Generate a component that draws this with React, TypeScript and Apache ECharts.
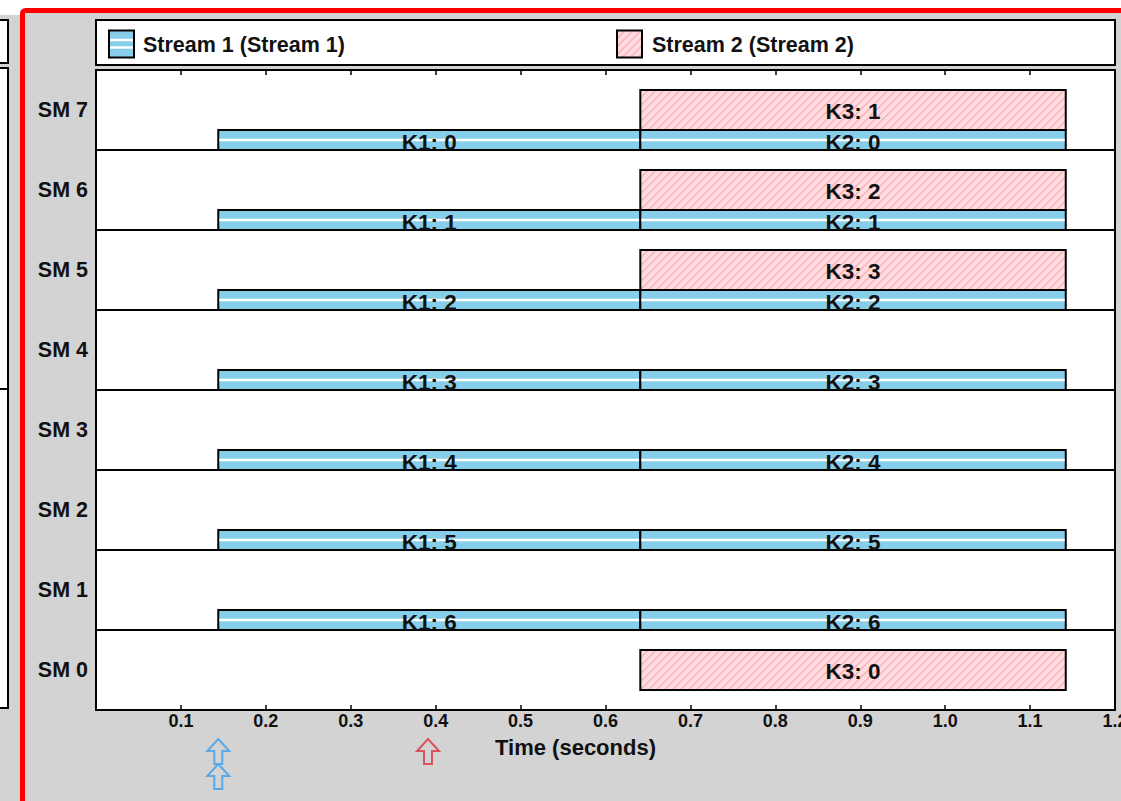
import React, { useEffect, useRef } from "react";
import * as echarts from "echarts";

const FONT = '"Liberation Sans", Arial, Helvetica, sans-serif';

// Rows (SMs) from bottom to top
const smLabels = ["SM 0", "SM 1", "SM 2", "SM 3", "SM 4", "SM 5", "SM 6", "SM 7"];
const streamNames = ["Stream 1", "Stream 2"];
const timeTicks = [0.1, 0.2, 0.3, 0.4, 0.5, 0.6, 0.7, 0.8, 0.9, 1.0, 1.1, 1.2];

// Thread blocks
const blockSM = [7, 6, 5, 4, 3, 2, 1, 7, 6, 5, 4, 3, 2, 1, 0, 7, 6, 5];
const blockStart = [
  0.144, 0.144, 0.144, 0.144, 0.144, 0.144, 0.144,
  0.641, 0.641, 0.641, 0.641, 0.641, 0.641, 0.641,
  0.641, 0.641, 0.641, 0.641,
];
const blockEnd = [
  0.641, 0.641, 0.641, 0.641, 0.641, 0.641, 0.641,
  1.142, 1.142, 1.142, 1.142, 1.142, 1.142, 1.142,
  1.142, 1.142, 1.142, 1.142,
];
const blockStream = [0, 0, 0, 0, 0, 0, 0, 0, 0, 0, 0, 0, 0, 0, 1, 1, 1, 1];
const blockLabel = [
  "K1: 0", "K1: 1", "K1: 2", "K1: 3", "K1: 4", "K1: 5", "K1: 6",
  "K2: 0", "K2: 1", "K2: 2", "K2: 3", "K2: 4", "K2: 5", "K2: 6",
  "K3: 0", "K3: 1", "K3: 2", "K3: 3",
];

// Kernel launch markers (time, stream, stack position)
const launchTime = [0.144, 0.144, 0.391];
const launchStream = [0, 0, 1];
const launchStack = [0, 1, 0];

const BLUE = "#87CEEB";
const PINK = "#FFDCDF";
const HATCH = "#F7AEB6";
const ARROW_COLORS = ["#5AA8E6", "#D9535D"];

function hatchLines(x0: number, y0: number, w: number, h: number, step: number, color: string) {
  const out: any[] = [];
  const x1 = x0 + w;
  for (let k = x0 - h; k < x1; k += step) {
    const xs = Math.max(k, x0);
    const xe = Math.min(k + h, x1);
    if (xs >= xe) continue;
    out.push({
      type: "line",
      shape: { x1: xs, y1: y0 + h - (xs - k), x2: xe, y2: y0 + h - (xe - k) },
      style: { stroke: color, lineWidth: 1.3 },
    });
  }
  return out;
}

export default function App() {
  const ref = useRef<HTMLDivElement>(null);

  useEffect(() => {
    if (!ref.current) return;
    const chart = echarts.init(ref.current, null, { renderer: "svg" });

    const blockData = blockSM.map((sm, i) => [blockStart[i], blockEnd[i], sm, blockStream[i], i]);
    const launchData = launchTime.map((t, i) => [t, 0, launchStream[i], launchStack[i]]);
    const tickData = timeTicks.map((t) => [t, 0]);

    const renderBlock = (params: any, api: any) => {
      const s = api.value(0);
      const e = api.value(1);
      const sm = api.value(2);
      const st = api.value(3);
      const idx = api.value(4);
      const p0 = api.coord([s, sm]);
      const p1 = api.coord([e, sm]);
      const band = api.size([0, 1])[1];
      const rowBottom = p0[1] + band / 2;
      const x0 = p0[0];
      const x1 = p1[0];
      const children: any[] = [];
      let y0: number, h: number;
      if (st === 0) {
        h = band * 0.25;
        y0 = rowBottom - h;
        children.push({
          type: "rect",
          shape: { x: x0, y: y0, width: x1 - x0, height: h },
          style: { fill: BLUE, stroke: "#000", lineWidth: 2 },
        });
        children.push({
          type: "line",
          shape: { x1: x0 + 1, y1: y0 + h / 2, x2: x1 - 1, y2: y0 + h / 2 },
          style: { stroke: "#fff", lineWidth: 2.5 },
        });
      } else {
        h = band * 0.5;
        y0 = rowBottom - band * 0.75;
        children.push({
          type: "rect",
          shape: { x: x0, y: y0, width: x1 - x0, height: h },
          style: { fill: PINK },
        });
        children.push(...hatchLines(x0, y0, x1 - x0, h, 8, HATCH));
        children.push({
          type: "rect",
          shape: { x: x0, y: y0, width: x1 - x0, height: h },
          style: { fill: "none", stroke: "#000", lineWidth: 2 },
        });
      }
      children.push({
        type: "text",
        style: {
          text: blockLabel[idx],
          x: (x0 + x1) / 2,
          y: y0 + h / 2 + (st === 0 ? 2 : 1),
          align: "center",
          verticalAlign: "middle",
          font: `bold 22.5px ${FONT}`,
          fill: "#111",
        },
      });
      return {
        type: "group",
        clipPath: {
          type: "rect",
          shape: { x: x0 - 3, y: rowBottom - band, width: x1 - x0 + 6, height: band },
        },
        children,
      };
    };

    const renderArrow = (params: any, api: any) => {
      const t = api.value(0);
      const st = api.value(2);
      const stack = api.value(3);
      const p = api.coord([t, 0]);
      const band = api.size([0, 1])[1];
      const base = p[1] + band / 2;
      const cx = p[0];
      const top = base + 29 + stack * 25;
      const hw = 11, hh = 12, sw = 4, th = 25;
      return {
        type: "polygon",
        shape: {
          points: [
            [cx, top],
            [cx + hw, top + hh],
            [cx + sw, top + hh],
            [cx + sw, top + th],
            [cx - sw, top + th],
            [cx - sw, top + hh],
            [cx - hw, top + hh],
          ],
        },
        style: { fill: "none", stroke: ARROW_COLORS[st], lineWidth: 2 },
      };
    };

    const renderTickLabel = (params: any, api: any) => {
      const t = api.value(0);
      const p = api.coord([t, 0]);
      const band = api.size([0, 1])[1];
      const base = p[1] + band / 2;
      return {
        type: "text",
        style: {
          text: t.toFixed(1),
          x: p[0],
          y: base + 10.5,
          align: "center",
          verticalAlign: "middle",
          fontFamily: FONT,
          fontWeight: "bold",
          fontSize: 18,
          fill: "#111",
        },
      };
    };

    const legendSwatch = (x: number, y: number, st: number) => {
      const w = 25, h = 27;
      if (st === 0) {
        return [
          { type: "rect", shape: { x, y, width: w, height: h }, style: { fill: BLUE } },
          { type: "line", shape: { x1: x, y1: y + 9.5, x2: x + w, y2: y + 9.5 }, style: { stroke: "#fff", lineWidth: 2.5 } },
          { type: "line", shape: { x1: x, y1: y + 17, x2: x + w, y2: y + 17 }, style: { stroke: "#fff", lineWidth: 2.5 } },
          { type: "rect", shape: { x, y, width: w, height: h }, style: { fill: "none", stroke: "#000", lineWidth: 2 } },
        ];
      }
      return [
        { type: "rect", shape: { x, y, width: w, height: h }, style: { fill: PINK } },
        ...hatchLines(x, y, w, h, 8, HATCH),
        { type: "rect", shape: { x, y, width: w, height: h }, style: { fill: "none", stroke: "#000", lineWidth: 2 } },
      ];
    };

    const option: any = {
      animation: false,
      backgroundColor: "#D3D3D3",
      textStyle: { fontFamily: FONT },
      grid: {
        left: 96,
        right: 6,
        top: 70,
        bottom: 91,
        show: true,
        containLabel: false,
        outerBoundsMode: "none",
        backgroundColor: "#fff",
        borderColor: "#000",
        borderWidth: 2,
      },
      xAxis: [
        {
          type: "value",
          position: "bottom",
          min: 0,
          max: 1.2,
          interval: 0.1,
          axisLine: { show: false },
          axisTick: { show: true, inside: true, length: 5, lineStyle: { color: "#000", width: 1.5 } },
          axisLabel: { show: false },
          splitLine: { show: false },
          name: "Time (seconds)",
          nameLocation: "middle",
          nameGap: 26,
          nameTextStyle: {
            color: "#111",
            fontWeight: "bold",
            fontSize: 22,
            fontFamily: FONT,
            padding: [0, 60, 0, 0],
          },
        },
        {
          type: "value",
          position: "top",
          min: 0,
          max: 1.2,
          interval: 0.1,
          axisLine: { show: false },
          axisTick: { show: true, inside: true, length: 5, lineStyle: { color: "#000", width: 1.5 } },
          axisLabel: { show: false },
          splitLine: { show: false },
        },
      ],
      yAxis: {
        type: "category",
        data: smLabels,
        axisLine: { show: false },
        axisTick: { show: false },
        splitLine: { show: true, lineStyle: { color: "#000", width: 2 } },
        axisLabel: {
          margin: 8,
          color: "#111",
          fontWeight: "bold",
          fontSize: 21.5,
          fontFamily: FONT,
        },
      },
      graphic: [
        { type: "rect", z: -1, shape: { x: 0, y: 0, width: 1121, height: 10 }, style: { fill: "#fff" } },
        { type: "rect", z: -1, shape: { x: 0, y: 0, width: 22, height: 15 }, style: { fill: "#fff" } },
        { type: "rect", shape: { x: -10, y: 20, width: 18, height: 43 }, style: { fill: "#fff", stroke: "#000", lineWidth: 2 } },
        { type: "rect", shape: { x: -10, y: 68, width: 18, height: 321 }, style: { fill: "#fff", stroke: "#000", lineWidth: 2 } },
        { type: "rect", shape: { x: -10, y: 389, width: 18, height: 319 }, style: { fill: "#fff", stroke: "#000", lineWidth: 2 } },
        {
          type: "rect",
          shape: { x: 22.5, y: 10.5, width: 1300, height: 1000, r: 3 },
          style: { fill: "none", stroke: "#FF0000", lineWidth: 5 },
        },
        {
          type: "group",
          children: [
            { type: "rect", shape: { x: 96, y: 20, width: 1019, height: 45 }, style: { fill: "#fff", stroke: "#000", lineWidth: 2 } },
            ...legendSwatch(109, 30.5, 0),
            {
              type: "text",
              style: { text: `${streamNames[0]} (${streamNames[0]})`, x: 143, y: 44.5, verticalAlign: "middle", font: `bold 21.5px ${FONT}`, fill: "#111" },
            },
            ...legendSwatch(617, 30.5, 1),
            {
              type: "text",
              style: { text: `${streamNames[1]} (${streamNames[1]})`, x: 652, y: 44.5, verticalAlign: "middle", font: `bold 21.5px ${FONT}`, fill: "#111" },
            },
          ],
        },
      ],
      series: [
        {
          type: "custom",
          name: "blocks",
          xAxisIndex: 0,
          yAxisIndex: 0,
          renderItem: renderBlock,
          encode: { x: [0, 1], y: 2 },
          data: blockData,
          clip: false,
          silent: true,
        },
        {
          type: "custom",
          name: "launches",
          xAxisIndex: 0,
          yAxisIndex: 0,
          renderItem: renderArrow,
          encode: { x: 0, y: 1 },
          data: launchData,
          clip: false,
          silent: true,
        },
        {
          type: "custom",
          name: "timeTicks",
          xAxisIndex: 0,
          yAxisIndex: 0,
          renderItem: renderTickLabel,
          encode: { x: 0, y: 1 },
          data: tickData,
          clip: false,
          silent: true,
        },
      ],
    };

    chart.setOption(option);
    return () => chart.dispose();
  }, []);

  return (
    <div
      ref={ref}
      style={{ position: "fixed", left: 0, top: 0, width: 1121, height: 801 }}
    />
  );
}
